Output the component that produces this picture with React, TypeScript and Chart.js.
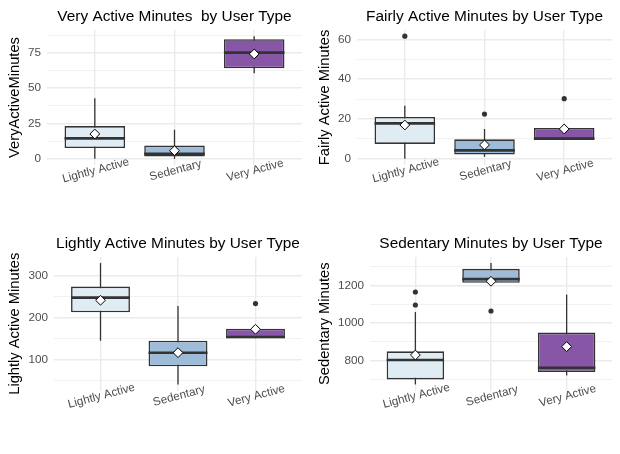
import React, { useEffect, useRef } from 'react';
import { Chart, registerables } from 'chart.js';

Chart.register(...registerables);

// ---------- data ----------
const userTypes = ['Lightly Active', 'Sedentary', 'Very Active'];
const boxFills = ['#E0ECF4', '#9EBCDA', '#8856A7'];

// Very Active Minutes
const vaLow = [0, 0, 60.6];
const vaQ1 = [7.7, 1.6, 64.0];
const vaMedian = [14.5, 3.5, 75.2];
const vaQ3 = [23.2, 9.4, 84.6];
const vaHigh = [42.8, 20.6, 86.8];
const vaMean = [17.6, 5.8, 74.2];
const vaOutliers = [[], [], []];
const vaMajor = [0, 25, 50, 75];
const vaMinor = [12.5, 37.5, 62.5, 87.5];

// Fairly Active Minutes
const faLow = [0, 1.0, 10.0];
const faQ1 = [7.5, 2.2, 10.0];
const faMedian = [17.8, 4.3, 10.2];
const faQ3 = [21.0, 9.8, 15.5];
const faHigh = [26.7, 15.0, 15.5];
const faMean = [17.0, 7.0, 15.0];
const faOutliers = [[61.6], [22.5], [30.2]];
const faMajor = [0, 20, 40, 60];
const faMinor = [10, 30, 50];

// Lightly Active Minutes
const laLow = [144.5, 40.2, 150.2];
const laQ1 = [212.4, 83.3, 150.2];
const laMedian = [247.4, 115.8, 153.3];
const laQ3 = [273.7, 144.5, 173.2];
const laHigh = [329.7, 227.5, 173.2];
const laMean = [241.0, 116.0, 171.8];
const laOutliers = [[], [], [233]];
const laMajor = [100, 200, 300];
const laMinor = [50, 150, 250];

// Sedentary Minutes
const seLow = [673.6, 1208, 721.8];
const seQ1 = [700.4, 1214.6, 739.5];
const seMedian = [803.7, 1234, 762.5];
const seQ3 = [850, 1289.5, 950];
const seHigh = [1059, 1320, 1152];
const seMean = [830.5, 1223, 875];
const seOutliers = [[1166, 1096.7], [1064.6], []];
const seMajor = [800, 1000, 1200];
const seMinor = [700, 900, 1100, 1300];

const panels = [
  { title: 'Very Active Minutes  by User Type', yTitle: 'VeryActiveMinutes', low: vaLow, q1: vaQ1, median: vaMedian, q3: vaQ3, high: vaHigh, mean: vaMean, outliers: vaOutliers, major: vaMajor, minor: vaMinor },
  { title: 'Fairly Active Minutes by User Type', yTitle: 'Fairly Active Minutes', low: faLow, q1: faQ1, median: faMedian, q3: faQ3, high: faHigh, mean: faMean, outliers: faOutliers, major: faMajor, minor: faMinor },
  { title: 'Lightly Active Minutes by User Type', yTitle: 'Lightly Active Minutes', low: laLow, q1: laQ1, median: laMedian, q3: laQ3, high: laHigh, mean: laMean, outliers: laOutliers, major: laMajor, minor: laMinor },
  { title: 'Sedentary Minutes by User Type', yTitle: 'Sedentary Minutes', low: seLow, q1: seQ1, median: seMedian, q3: seQ3, high: seHigh, mean: seMean, outliers: seOutliers, major: seMajor, minor: seMinor },
];

// ---------- layout ----------
const CELL_W = 310;
const CELL_H = 227;
const cellLeft = [0, 310, 0, 310];
const cellTop = [0, 0, 227, 227];
const plotLeft = [47, 47, 54, 60];
const plotBottom = [165, 165, 163.5, 163.5];
const titleBaseline = [20.7, 20.7, 21.3, 21.3];

const FONT = "'Liberation Sans', Arial, sans-serif";
const INK = '#333333';
const GRID = '#EBEBEB';

function Panel({ idx }: { idx: number }) {
  const ref = useRef<HTMLCanvasElement | null>(null);
  useEffect(() => {
    const p = panels[idx];
    const allVals = [...p.low, ...p.high, ...p.outliers.flat()];
    const lo = Math.min(...allVals);
    const hi = Math.max(...allVals);
    const pad = (hi - lo) * 0.05;
    const allTicks = [...p.major, ...p.minor].sort((a, b) => a - b);

    const boxPlugin = {
      id: 'boxParts',
      beforeDatasetDraw(chart: any, args: any) {
        if (args.index !== 0) return;
        const { ctx, scales } = chart;
        const ys = scales.y;
        const meta = chart.getDatasetMeta(0);
        ctx.save();
        ctx.strokeStyle = INK;
        ctx.lineWidth = 1.3;
        meta.data.forEach((bar: any, i: number) => {
          const x = bar.x;
          ctx.beginPath();
          ctx.moveTo(x, ys.getPixelForValue(p.low[i]));
          ctx.lineTo(x, ys.getPixelForValue(p.high[i]));
          ctx.stroke();
        });
        ctx.restore();
      },
      afterDatasetDraw(chart: any, args: any) {
        if (args.index !== 0) return;
        const { ctx, scales } = chart;
        const ys = scales.y;
        const meta = chart.getDatasetMeta(0);
        ctx.save();
        ctx.strokeStyle = INK;
        ctx.lineWidth = 2.7;
        meta.data.forEach((bar: any, i: number) => {
          const y = ys.getPixelForValue(p.median[i]);
          ctx.beginPath();
          ctx.moveTo(bar.x - bar.width / 2, y);
          ctx.lineTo(bar.x + bar.width / 2, y);
          ctx.stroke();
        });
        ctx.restore();
      },
      afterDraw(chart: any) {
        const { ctx, chartArea, scales } = chart;
        ctx.save();
        ctx.fillStyle = '#000000';
        ctx.font = `15.4px ${FONT}`;
        ctx.textAlign = 'center';
        ctx.textBaseline = 'alphabetic';
        ctx.fillText(p.title, (chartArea.left + chartArea.right) / 2, titleBaseline[idx]);
        ctx.fillStyle = '#4D4D4D';
        ctx.font = `11.7px ${FONT}`;
        ctx.textBaseline = 'middle';
        userTypes.forEach((label, i) => {
          const x = scales.x.getPixelForValue(i + 1);
          ctx.save();
          ctx.translate(x + 1, chartArea.bottom + 5.5);
          ctx.rotate((-15 * Math.PI) / 180);
          ctx.fillText(label, 0, 0);
          ctx.restore();
        });
        ctx.restore();
      },
    };

    const chart = new Chart(ref.current as HTMLCanvasElement, {
      type: 'bar',
      data: {
        datasets: [
          {
            type: 'bar',
            data: userTypes.map((_, i) => ({ x: i + 1, y: [p.q1[i], p.q3[i]] })) as any,
            backgroundColor: boxFills,
            borderColor: INK,
            borderWidth: 1.6,
            borderSkipped: false,
            barPercentage: 0.76,
            categoryPercentage: 1,
            grouped: false,
            order: 2,
          } as any,
          {
            type: 'scatter',
            data: p.outliers.flatMap((vals, i) => vals.map((v) => ({ x: i + 1, y: v }))),
            pointStyle: 'circle',
            pointRadius: 2.6,
            pointBackgroundColor: INK,
            pointBorderWidth: 0,
            order: 1,
          } as any,
          {
            type: 'scatter',
            data: userTypes.map((_, i) => ({ x: i + 1, y: p.mean[i] })),
            pointStyle: 'rectRot',
            pointRadius: 4.9,
            pointBackgroundColor: '#FFFFFF',
            pointBorderColor: '#000000',
            pointBorderWidth: 1,
            order: 0,
          } as any,
        ],
      },
      options: {
        animation: false,
        responsive: false,
        layout: { padding: { top: 30, right: 8, left: 0, bottom: 0 } },
        plugins: { legend: { display: false }, tooltip: { enabled: false }, title: { display: false } },
        scales: {
          x: {
            type: 'linear',
            min: 0.4,
            max: 3.6,
            offset: false,
            afterBuildTicks: (axis: any) => {
              axis.ticks = userTypes.map((_, i) => ({ value: i + 1 }));
            },
            afterFit: (axis: any) => {
              axis.height = CELL_H - plotBottom[idx];
            },
            ticks: { display: false },
            grid: { color: GRID, lineWidth: 1.4, drawTicks: false, offset: false },
            border: { display: false },
          },
          y: {
            type: 'linear',
            position: 'left',
            min: lo - pad,
            max: hi + pad,
            bounds: 'data',
            afterBuildTicks: (axis: any) => {
              axis.ticks = allTicks.map((v) => ({ value: v }));
            },
            afterFit: (axis: any) => {
              axis.width = plotLeft[idx];
            },
            ticks: {
              autoSkip: false,
              padding: 6,
              color: '#4D4D4D',
              font: { family: FONT, size: 11.7 },
              callback: (value: any) => (p.major.includes(Number(value)) ? String(value) : ''),
            },
            grid: {
              drawTicks: false,
              color: GRID,
              lineWidth: (c: any) => (c.tick && p.major.includes(c.tick.value) ? 1.4 : 0.7),
            },
            border: { display: false },
            title: {
              display: true,
              text: p.yTitle,
              color: '#000000',
              font: { family: FONT, size: 14.7 },
              padding: { top: 6.5, bottom: 0 },
            },
          },
        },
      } as any,
      plugins: [boxPlugin],
    });
    return () => chart.destroy();
  }, [idx]);

  return (
    <canvas
      ref={ref}
      width={CELL_W}
      height={CELL_H}
      style={{ position: 'absolute', left: cellLeft[idx], top: cellTop[idx], width: CELL_W, height: CELL_H, display: 'block' }}
    />
  );
}

export default function App() {
  return (
    <div style={{ position: 'absolute', left: 0, top: 0, width: 620, height: 454, background: '#FFFFFF' }}>
      {panels.map((_, i) => (
        <Panel key={i} idx={i} />
      ))}
    </div>
  );
}
